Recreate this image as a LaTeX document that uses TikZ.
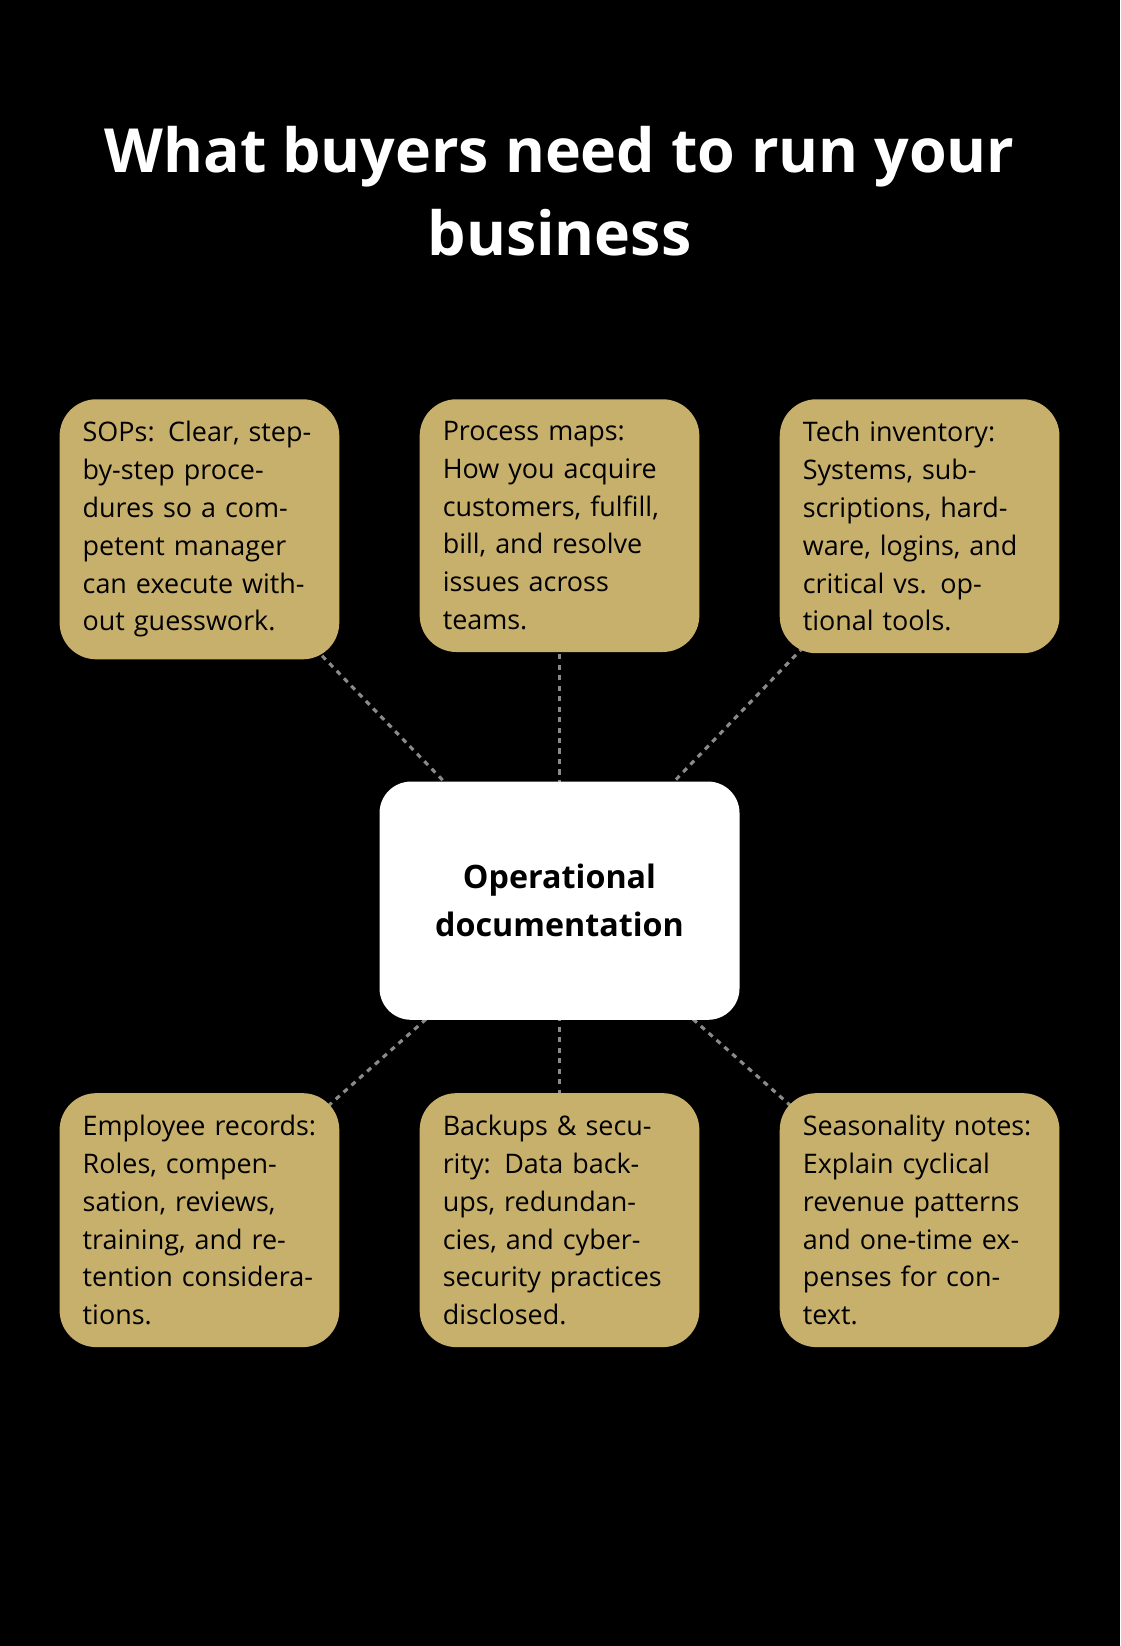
\documentclass[tikz,border=0pt]{standalone}
\usepackage{fontspec}
\setmainfont{Open Sans}
\usetikzlibrary{positioning,backgrounds}
\definecolor{gold}{HTML}{C7B06C}
\definecolor{dashgray}{HTML}{8A8A8A}
\tikzset{
  itembox/.style={fill=gold, rounded corners=0.7cm, text width=4.45cm, inner xsep=0.44cm,
    inner ysep=0.42cm, align=left, anchor=north,
    font=\fontsize{14.6}{20.5}\selectfont},
  hubbox/.style={fill=white, rounded corners=0.6cm, minimum width=6.86cm, minimum height=4.54cm,
    align=center, font=\fontsize{17.5}{26}\selectfont\bfseries},
  linkline/.style={draw=dashgray, line width=0.06cm, dash pattern=on 0.1cm off 0.1cm}
}
\begin{document}
\begin{tikzpicture}[x=0.02cm,y=-0.02cm]
  \begin{scope}[on background layer]
    \fill[black] (0,0) rectangle (1067,1568);
  \end{scope}
  \useasboundingbox (0,0) rectangle (1067,1568);

  % title
  \node (title) [text=white, align=center, font=\fontsize{33}{45}\selectfont\bfseries] at (533,182)
    {What buyers need to run your\\business};

  % hub
  \node (hub) [hubbox] at (533,858) {Operational\\documentation};

  % top row
  \node (sops) [itembox] at (190,380) {SOPs: Clear, step-by-step procedures so a competent manager can execute without guesswork.};
  \node (maps) [itembox] at (533,380) {Process maps: How you acquire customers, fulfill, bill, and resolve issues across teams.};
  \node (tech) [itembox] at (876,380) {Tech inventory: Systems, subscriptions, hardware, logins, and critical vs. optional tools.};

  % bottom row
  \node (staff) [itembox] at (190,1041) {Employee records: Roles, compensation, reviews, training, and retention considerations.};
  \node (backup) [itembox] at (533,1041) {Backups \& security: Data backups, redundancies, and cybersecurity practices disclosed.};
  \node (season) [itembox] at (876,1041) {Seasonality notes: Explain cyclical revenue patterns and one-time expenses for context.};

  % connectors
  \begin{scope}[on background layer]
    \foreach \n in {sops,maps,tech,staff,backup,season}
      \draw [linkline] (hub.center) -- (\n.center);
  \end{scope}
\end{tikzpicture}
\end{document}
